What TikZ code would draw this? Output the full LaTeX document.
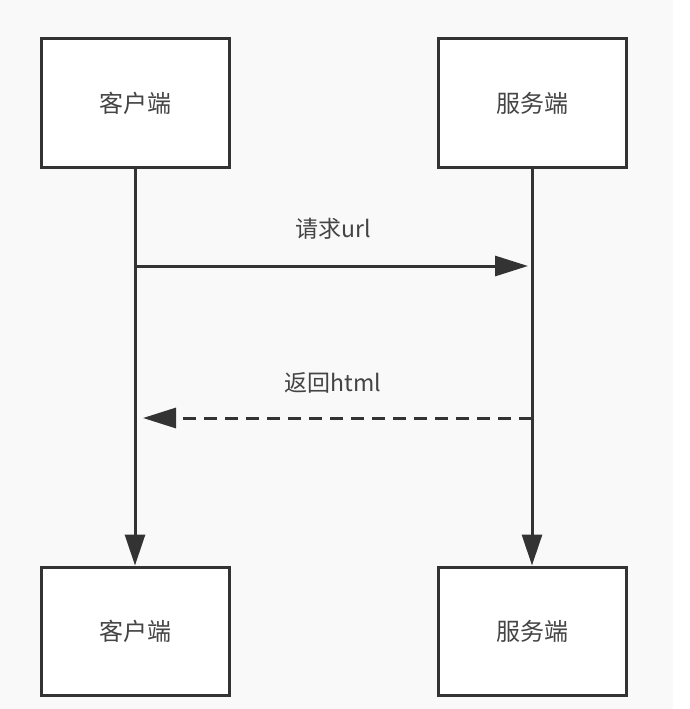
\documentclass[tikz,border=0pt]{standalone}
\usepackage{fontspec}
\setmainfont{Noto Sans CJK SC}
\usetikzlibrary{arrows.meta}
\definecolor{ink}{HTML}{333333}
\definecolor{txt}{HTML}{444444}
\definecolor{bg}{HTML}{F9F9F9}
\begin{document}
\begin{tikzpicture}[x=1pt,y=-1pt,
  actor/.style={draw=ink,line width=3pt,fill=white,minimum width=188pt,minimum height=128pt,inner sep=0pt,font=\fontsize{24}{28}\selectfont,text=txt},
  life/.style={draw=ink,line width=3pt,-{Triangle[length=31pt,width=20pt]}},
  msg/.style={draw=ink,line width=3pt,-{Triangle[length=33pt,width=20pt]}},
  ret/.style={msg,dash pattern=on 13pt off 8pt},
  lbl/.style={font=\fontsize{23}{27}\selectfont,text=txt}]
\fill[bg] (0,0) rectangle (673,709);
\fill[white] (673,0) rectangle (689,709);
\useasboundingbox (0,0) rectangle (689,709);
\node[actor] (c1) at (135,103) {客户端};
\node[actor] (s1) at (532,103) {服务端};
\node[actor] (c2) at (135,631) {客户端};
\node[actor] (s2) at (532,631) {服务端};
\draw[life] (c1.south) -- (c2.north);
\draw[life] (s1.south) -- (s2.north);
\coordinate (a1) at (135,266);
\coordinate (a2) at (528,266);
\coordinate (b1) at (532,418);
\coordinate (b2) at (143,418);
\draw[msg] (a1) -- (a2);
\draw[ret] (b1) -- (b2);
\node[lbl] (l1) at (333,229) {请求url};
\node[lbl] (l2) at (333,383) {返回html};
\end{tikzpicture}
\end{document}
